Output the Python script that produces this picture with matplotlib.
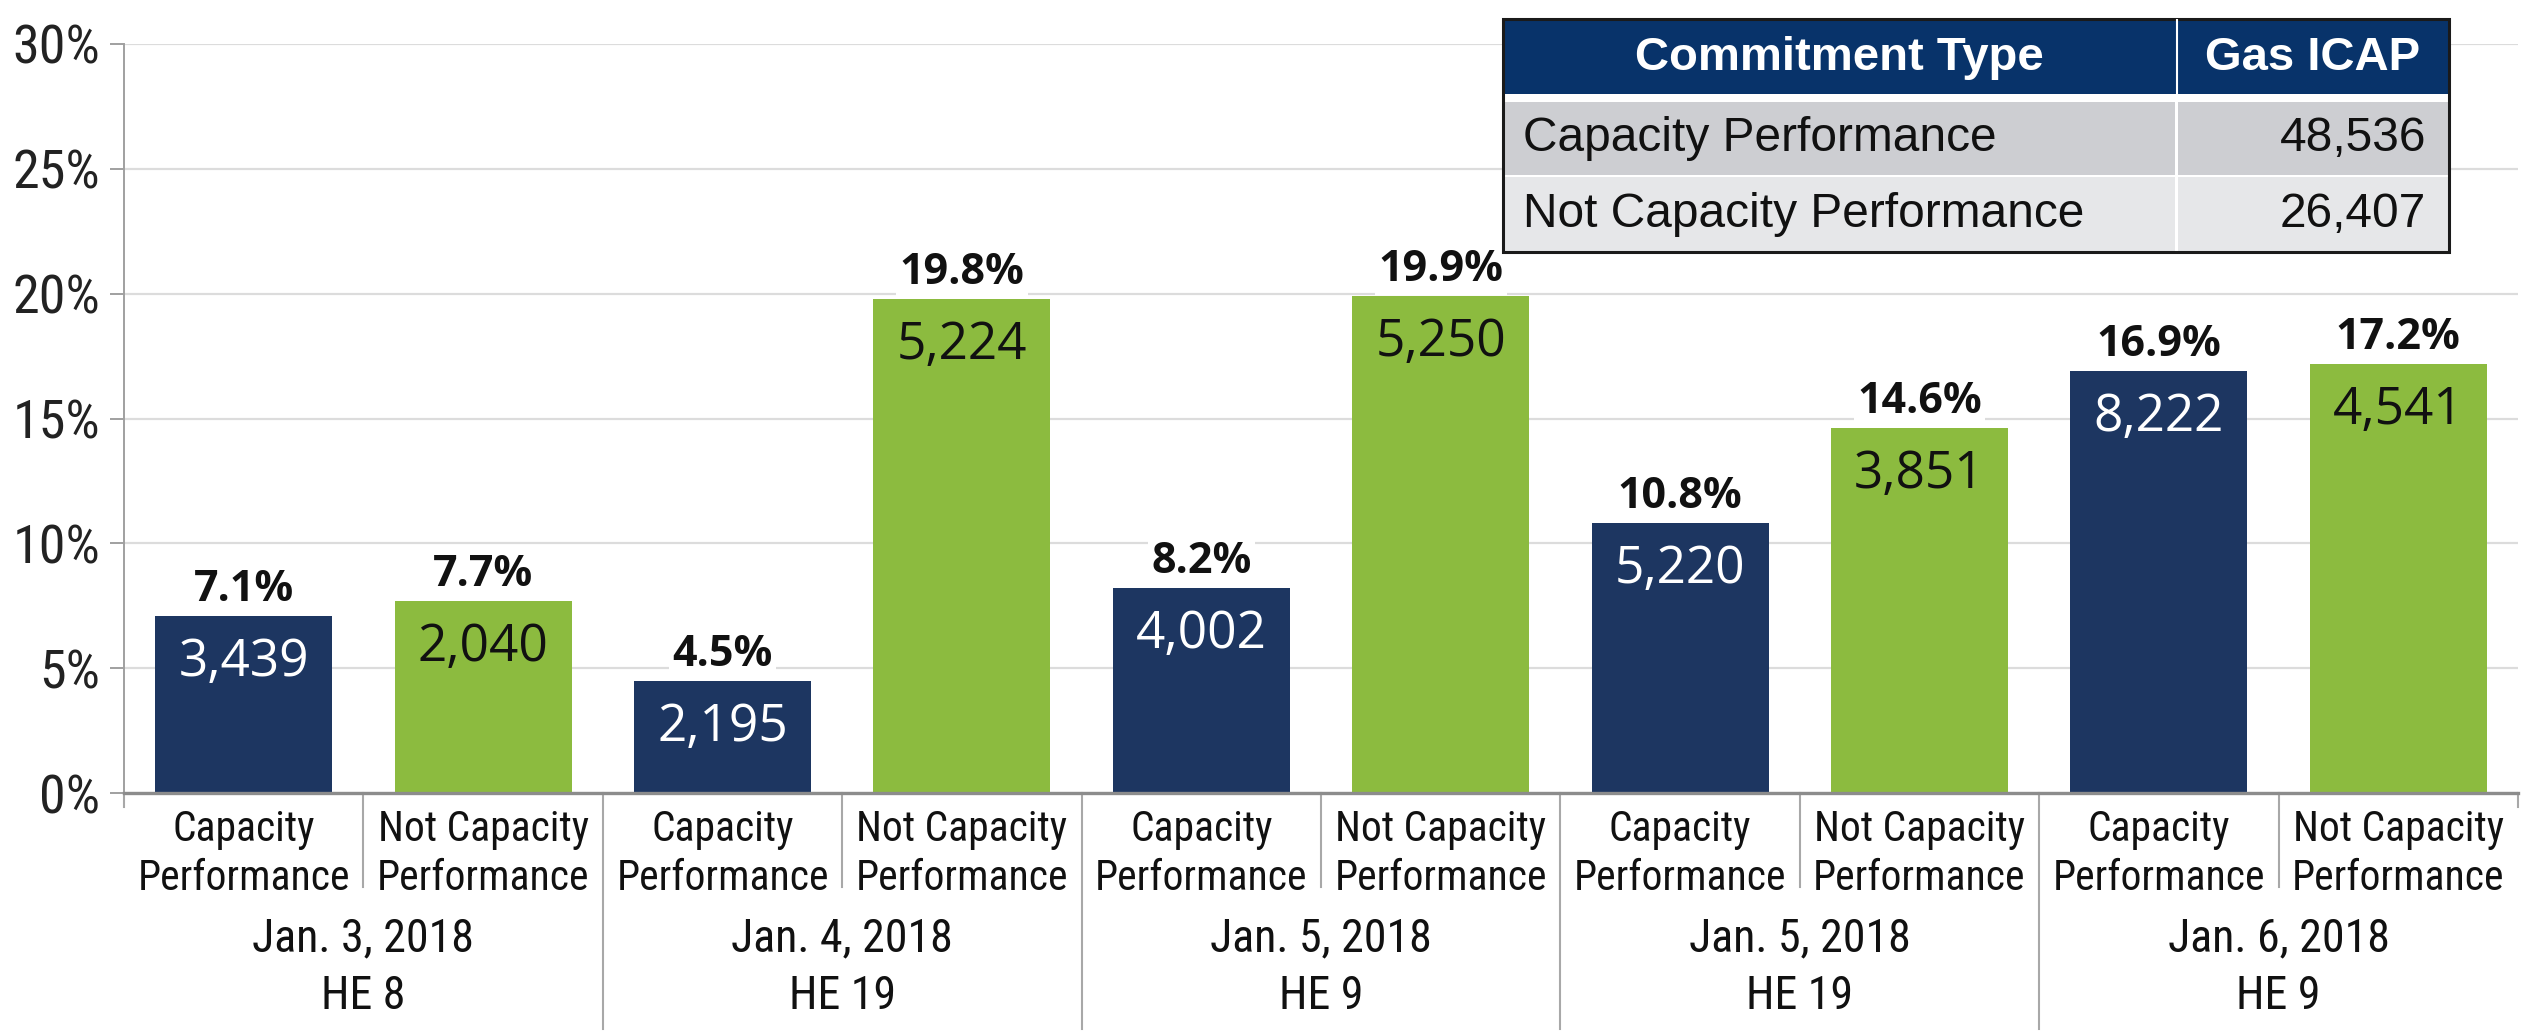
import matplotlib
matplotlib.use('Agg')
import matplotlib.pyplot as plt
from matplotlib.patches import Rectangle

# ---------------- data ----------------
categories = ['Capacity\nPerformance', 'Not Capacity\nPerformance'] * 5
groups = ['Jan. 3, 2018\nHE 8', 'Jan. 4, 2018\nHE 19', 'Jan. 5, 2018\nHE 9',
          'Jan. 5, 2018\nHE 19', 'Jan. 6, 2018\nHE 9']
pct_values = [7.1, 7.7, 4.5, 19.8, 8.2, 19.9, 10.8, 14.6, 16.9, 17.2]
mw_values = [3439, 2040, 2195, 5224, 4002, 5250, 5220, 3851, 8222, 4541]
y_ticks = [0, 5, 10, 15, 20, 25, 30]
table_header = ['Commitment Type', 'Gas ICAP']
table_types = ['Capacity Performance', 'Not Capacity Performance']
table_icap = [48536, 26407]

# ---------------- style ----------------
BLUE = '#1d3661'
GREEN = '#8cbb3f'
HEADER = '#08336a'
ROW1 = '#cdced2'
ROW2 = '#e6e7e9'
GRID = '#dcdcdc'
AXIS = '#8c8c8c'
SEP = '#a8a8a8'
NARROW = ['Liberation Sans Narrow', 'Roboto Condensed', 'Liberation Sans', 'DejaVu Sans']
GEO = ['Open Sans', 'Lato', 'DejaVu Sans']
ARIAL = ['Liberation Sans', 'DejaVu Sans']

W, H = 2521, 1031
fig = plt.figure(figsize=(W / 100, H / 100), dpi=100)
fig.patch.set_facecolor('white')

x0, x1 = 124, 2518
y0, y1 = 793, 44   # pixel rows (from top) of 0% and 30%
ax = fig.add_axes([x0 / W, (H - y0) / H, (x1 - x0) / W, (y0 - y1) / H])
ax_h_px = y0 - y1

n = len(pct_values)
xs = list(range(n))
colors = [BLUE if i % 2 == 0 else GREEN for i in range(n)]

ax.set_xlim(-0.5, n - 0.5)
ax.set_ylim(0, 30)
ax.set_axisbelow(True)
ax.yaxis.grid(True, color=GRID, linewidth=1.6)
ax.bar(xs, pct_values, width=0.74, color=colors, zorder=2)

for s in ['top', 'right']:
    ax.spines[s].set_visible(False)
ax.spines['left'].set_color('#a0a0a0')
ax.spines['left'].set_linewidth(1.4)
ax.spines['bottom'].set_color(AXIS)
ax.spines['bottom'].set_linewidth(2.4)
ax.spines['bottom'].set_zorder(3)

ax.set_yticks(y_ticks)
ax.set_yticklabels([f'{t}%' for t in y_ticks], family=NARROW, fontsize=39, color='#222222')
ax.tick_params(axis='y', length=10, width=1.4, color='#a0a0a0', pad=7)
ax.set_xticks([])

# bar labels
for i, (p, v) in enumerate(zip(pct_values, mw_values)):
    ax.annotate(f'{p}%', xy=(i, p), xytext=(0, 15), textcoords='offset pixels',
                ha='center', va='baseline', fontsize=31, fontweight='bold',
                family=GEO, color='#111111', zorder=4,
                bbox=dict(boxstyle='square,pad=0.08', fc='white', ec='none'))
    ax.annotate(f'{v:,}', xy=(i, p), xytext=(0, -60), textcoords='offset pixels',
                ha='center', va='baseline', fontsize=37, fontweight='medium',
                family=GEO, color='white' if i % 2 == 0 else '#111111', zorder=4)

# category / group labels and separators
trans = ax.get_xaxis_transform()
for i, cat in enumerate(categories):
    l1, l2 = cat.split('\n')
    ax.annotate(l1, xy=(i, 0), xycoords=trans, xytext=(0, -37), textcoords='offset pixels',
                ha='center', va='center', fontsize=30, family=NARROW, color='#111111',
                annotation_clip=False)
    ax.annotate(l2, xy=(i, 0), xycoords=trans, xytext=(0, -85), textcoords='offset pixels',
                ha='center', va='center', fontsize=30, family=NARROW, color='#111111',
                annotation_clip=False)

for g, lab in enumerate(groups):
    l1, l2 = lab.split('\n')
    xc = 2 * g + 0.5
    ax.annotate(l1, xy=(xc, 0), xycoords=trans, xytext=(0, -145), textcoords='offset pixels',
                ha='center', va='center', fontsize=33, family=NARROW, color='#111111',
                annotation_clip=False)
    ax.annotate(l2, xy=(xc, 0), xycoords=trans, xytext=(0, -203), textcoords='offset pixels',
                ha='center', va='center', fontsize=33, family=NARROW, color='#111111',
                annotation_clip=False)

for k in range(n + 1):
    xb = k - 0.5
    if k == 0 or k == n:
        depth = 14
    elif k % 2 == 1:
        depth = 94
    else:
        depth = 236
    ax.plot([xb, xb], [0, -depth / ax_h_px], transform=trans, color=SEP,
            linewidth=1.5, clip_on=False, zorder=1)

# ---------------- table ----------------
tl, tr, tt, tb = 1503, 2449, 19, 252
tax = fig.add_axes([tl / W, (H - tb) / H, (tr - tl) / W, (tb - tt) / H])
tax.set_zorder(5)
tw, th = tr - tl, tb - tt
tax.set_xlim(0, tw)
tax.set_ylim(th, 0)
tax.axis('off')
col_div = 673
hdr_h = 75
rows_y = [(83, 156), (158, th)]

tax.add_patch(Rectangle((0, 0), tw, th, facecolor='white', edgecolor='none'))
tax.add_patch(Rectangle((0, 0), tw, hdr_h, facecolor=HEADER, edgecolor='none'))
for (ya, yb), fc in zip(rows_y, [ROW1, ROW2]):
    tax.add_patch(Rectangle((0, ya), col_div - 1, yb - ya, facecolor=fc, edgecolor='none'))
    tax.add_patch(Rectangle((col_div + 2, ya), tw - col_div - 2, yb - ya, facecolor=fc, edgecolor='none'))
tax.plot([col_div + 0.5, col_div + 0.5], [0, hdr_h], color='white', linewidth=1.5)
tax.add_patch(Rectangle((0, 0), tw, th, facecolor='none', edgecolor='#1a1a1a', linewidth=2.2,
                        clip_on=False))

tax.text(col_div / 2, hdr_h / 2 + 2, table_header[0], ha='center', va='center', color='white',
         fontsize=34, fontweight='bold', family=ARIAL)
tax.text((col_div + tw) / 2, hdr_h / 2 + 2, table_header[1], ha='center', va='center', color='white',
         fontsize=34, fontweight='bold', family=ARIAL)
for (ya, yb), name, val in zip(rows_y, table_types, table_icap):
    yc = (ya + yb) / 2
    tax.text(20, yc, name, ha='left', va='center', fontsize=34.5, family=ARIAL, color='#111111')
    tax.text(tw - 23, yc, f'{val:,}', ha='right', va='center', fontsize=34.5, family=ARIAL,
             color='#111111')

fig.savefig('out.png', dpi=100, facecolor='white')
